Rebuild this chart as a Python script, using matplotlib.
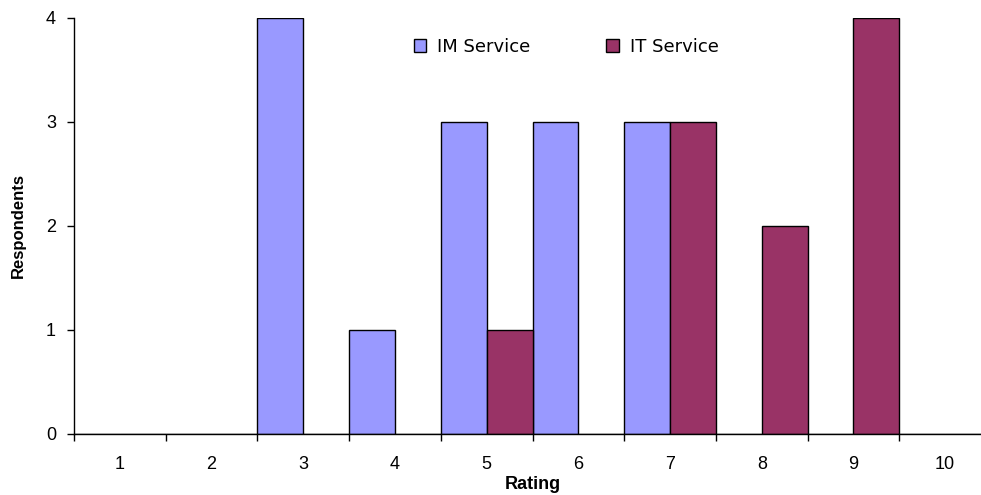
import numpy as np
import matplotlib.pyplot as plt

plt.rcParams['font.family'] = ['Liberation Sans', 'DejaVu Sans']

# Data
ratings = ['1', '2', '3', '4', '5', '6', '7', '8', '9', '10']
im_service = [0, 0, 4, 1, 3, 3, 3, 0, 0, 0]
it_service = [0, 0, 0, 0, 1, 0, 3, 2, 4, 0]

IM_COLOR = '#9999FF'
IT_COLOR = '#993366'

fig = plt.figure(figsize=(9.81, 4.95), dpi=100)
ax = fig.add_axes([74 / 981, 61 / 495, 917 / 981, 416 / 495])

x = np.arange(1, len(ratings) + 1)
ax.bar(x - 0.25, im_service, width=0.5, color=IM_COLOR, edgecolor='black',
       linewidth=1, label='IM Service')
ax.bar(x + 0.25, it_service, width=0.5, color=IT_COLOR, edgecolor='black',
       linewidth=1, label='IT Service')

ax.set_xlim(0.5, 10.5)
ax.set_ylim(0, 4)
ax.set_yticks([0, 1, 2, 3, 4])

# labels centred in categories, tick marks at the boundaries
ax.set_xticks(x)
ax.set_xticklabels(ratings)
ax.set_xticks(np.arange(0.5, 11, 1), minor=True)
ax.tick_params(axis='x', which='major', length=0, pad=16, labelsize=13)
ax.tick_params(axis='x', which='minor', length=5, direction='out', width=1)
ax.tick_params(axis='y', length=5, direction='out', width=1, labelsize=13, pad=8)

for side in ['top', 'right']:
    ax.spines[side].set_visible(False)
for side in ['left', 'bottom']:
    ax.spines[side].set_linewidth(1)

ax.set_xlabel('Rating', fontsize=13, fontweight='bold', labelpad=2)
ax.set_ylabel('Respondents', fontsize=12, fontweight='bold', labelpad=14,
              fontstretch='condensed')

leg = ax.legend(loc='center', bbox_to_anchor=(566 / 981, 1 - 47 / 495),
                bbox_transform=fig.transFigure, ncol=2, frameon=False,
                prop={'family': 'DejaVu Sans', 'size': 13},
                handlelength=0.7, handleheight=0.7,
                handletextpad=0.6, columnspacing=4.2)

fig.savefig('out.png', dpi=100)
